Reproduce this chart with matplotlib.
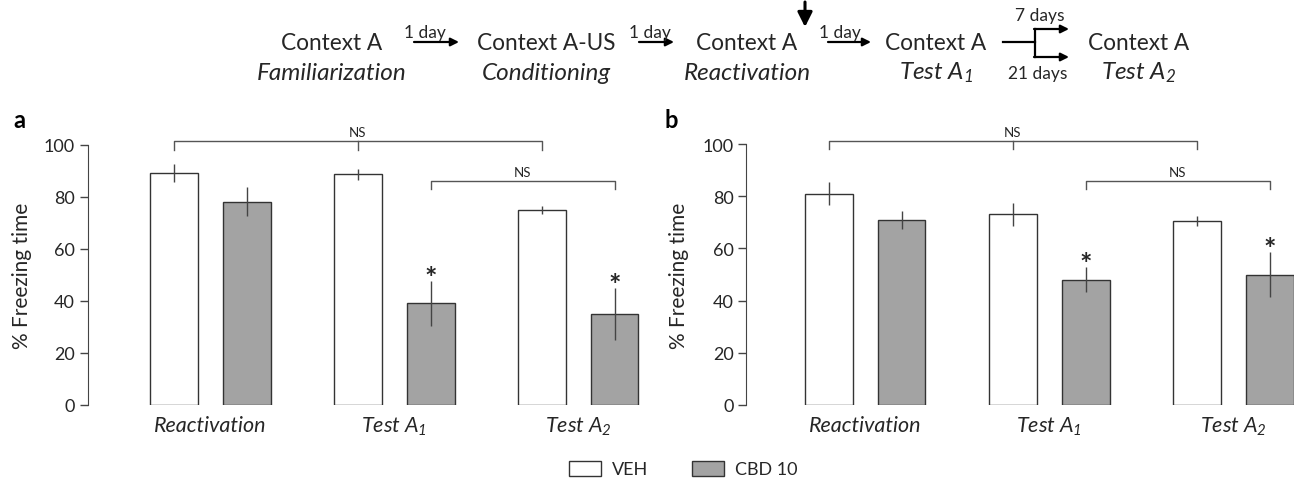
import matplotlib
matplotlib.use("Agg")
import matplotlib.pyplot as plt
import numpy as np
from matplotlib.patches import Patch
from matplotlib.lines import Line2D

plt.rcParams['font.family'] = ['Lato', 'DejaVu Sans']
plt.rcParams['mathtext.fontset'] = 'custom'
plt.rcParams['mathtext.it'] = 'Lato:italic'
plt.rcParams['mathtext.rm'] = 'Lato:italic'

TXT = '#262626'

# data (% freezing time, mean and error)
groups = ['Reactivation', 'Test $A_1$', 'Test $A_2$']
veh_a = [89, 88.5, 75]
veh_a_err = [3.5, 2.2, 1.5]
cbd_a = [78, 39, 35]
cbd_a_err = [5.5, 8.5, 10]
veh_b = [81, 73, 70.5]
veh_b_err = [4.5, 4.3, 1.8]
cbd_b = [71, 48, 50]
cbd_b_err = [3.5, 4.8, 8.7]
star_groups = [1, 2]
series_names = ['VEH', 'CBD 10']

W, H = 1296, 485
fig = plt.figure(figsize=(W / 100, H / 100), dpi=100)


def px(x, y):
    return x / W, 1 - y / H


def bracket(ax, x1, x2, y, drop, mid=None):
    kw = dict(color='#555555', lw=1.0, clip_on=False)
    ax.plot([x1, x1, x2, x2], [y - drop, y, y, y - drop], **kw)
    if mid is not None:
        ax.plot([mid, mid], [y, y - drop], **kw)
    xc = (x1 + x2) / 2 if mid is None else mid
    ax.text(xc, y + 1.2, 'NS', ha='center', va='bottom', fontsize=9.5, color=TXT)


def panel(ax, veh, veh_err, cbd, cbd_err, xlim):
    x = np.arange(len(groups))
    off, w = 0.198, 0.26
    ax.bar(x - off, veh, w, color='white', edgecolor='#333333', lw=1.0, zorder=2)
    ax.bar(x + off, cbd, w, color='#a3a3a3', edgecolor='#333333', lw=1.0, zorder=2)
    ax.errorbar(x - off, veh, yerr=veh_err, fmt='none', ecolor='#444444', elinewidth=1.0, capsize=0, zorder=3)
    ax.errorbar(x + off, cbd, yerr=cbd_err, fmt='none', ecolor='#444444', elinewidth=1.0, capsize=0, zorder=3)
    for g in star_groups:
        ax.text(g + off, cbd[g] + cbd_err[g] - 2.0, '*', ha='center', va='baseline',
                fontsize=21, fontweight='bold', color=TXT)
    bracket(ax, x[0] - off, x[2] - off, 101.2, 3.3, mid=x[1] - off)
    bracket(ax, x[1] + off, x[2] + off, 85.8, 3.0)
    ax.set_xlim(*xlim)
    ax.set_ylim(0, 100)
    ax.set_yticks([0, 20, 40, 60, 80, 100])
    ax.set_xticks(x)
    ax.set_xticklabels(groups, fontstyle='italic', fontsize=15.5, color=TXT)
    ax.tick_params(axis='x', length=0, pad=7)
    ax.tick_params(axis='y', length=6, width=1.0, color='#444444', labelsize=13, labelcolor=TXT, pad=3)
    for s in ['top', 'right', 'bottom']:
        ax.spines[s].set_visible(False)
    ax.spines['left'].set_color('#444444')
    ax.set_ylabel('% Freezing time', fontsize=15, color=TXT)


ax_a = fig.add_axes([87.5 / W, 79 / H, 555 / W, 260.5 / H])
panel(ax_a, veh_a, veh_a_err, cbd_a, cbd_a_err, (-0.668, 2.35))
ax_a.yaxis.set_label_coords(-0.1, 0.5)

ax_b = fig.add_axes([746 / W, 79 / H, 548 / W, 261 / H])
panel(ax_b, veh_b, veh_b_err, cbd_b, cbd_b_err, (-0.647, 2.33))
ax_b.yaxis.set_label_coords(-0.104, 0.5)

fig.text(*px(13, 120), 'a', fontsize=17, fontweight='bold', va='center', color='black')
fig.text(*px(665, 120), 'b', fontsize=17, fontweight='bold', va='center', color='black')

# protocol timeline on top
steps = [
    (332, 'Context A', 'Familiarization'),
    (546, 'Context A-US', 'Conditioning'),
    (747, 'Context A', 'Reactivation'),
    (936, 'Context A', 'Test $A_1$'),
    (1139, 'Context A', 'Test $A_2$'),
]
for xc, top, bottom in steps:
    fig.text(*px(xc, 43), top, ha='center', va='center', fontsize=16.3, color=TXT)
    fig.text(*px(xc, 73), bottom, ha='center', va='center', fontsize=17.5,
             fontstyle='italic', color=TXT)


def arrow(x1, y1, x2, y2, scale=12, lw=1.6):
    fig.add_artist(matplotlib.patches.FancyArrowPatch(
        px(x1, y1), px(x2, y2), transform=fig.transFigure,
        arrowstyle='-|>', mutation_scale=scale, lw=lw, color='black',
        shrinkA=0, shrinkB=0))


for t_x, a1, a2 in [(425, 414, 459), (650, 639, 674), (840, 828, 871)]:
    fig.text(*px(t_x, 33), '1 day', ha='center', va='center', fontsize=12.5, color=TXT)
    arrow(a1, 43, a2, 43)

# reactivation marker
arrow(805, 3, 805, 28, scale=22, lw=2.2)

# split to 7 / 21 days
fig.add_artist(Line2D([px(1003, 0)[0], px(1035, 0)[0]], [px(0, 43)[1]] * 2,
                      transform=fig.transFigure, color='black', lw=1.6))
fig.add_artist(Line2D([px(1035, 0)[0]] * 2, [px(0, 30)[1], px(0, 58)[1]],
                      transform=fig.transFigure, color='black', lw=1.6))
arrow(1034, 30, 1069, 30)
arrow(1034, 58, 1069, 58)
fig.text(*px(1040, 16), '7 days', ha='center', va='center', fontsize=12.5, color=TXT)
fig.text(*px(1038, 74), '21 days', ha='center', va='center', fontsize=12.5, color=TXT)

handles = [Patch(facecolor='white', edgecolor='#333333', lw=1.0),
           Patch(facecolor='#a3a3a3', edgecolor='#333333', lw=1.0)]
fig.legend(handles, series_names, loc='center', bbox_to_anchor=px(683, 470), ncol=2,
           frameon=False, fontsize=13, handlelength=1.8, handleheight=0.9,
           handletextpad=0.6, columnspacing=2.4, labelcolor=TXT)

fig.savefig('out.png', dpi=100)
